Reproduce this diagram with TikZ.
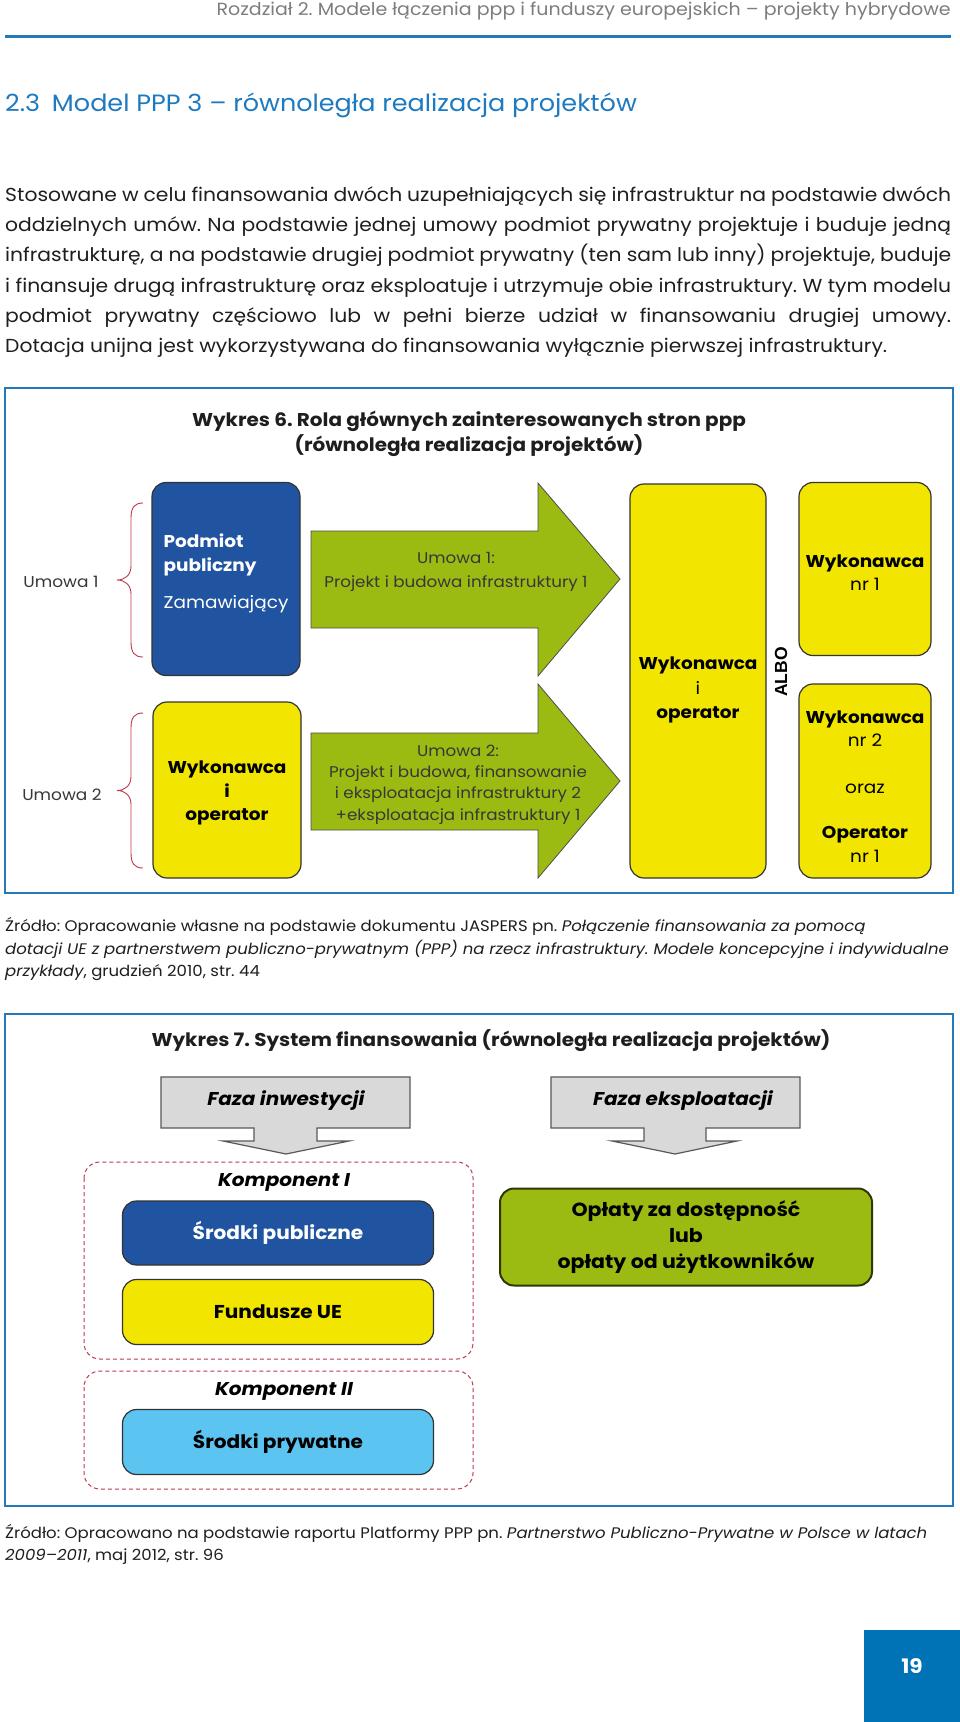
\documentclass[tikz,border=0pt]{standalone}
\usepackage{fontspec}
\setmainfont{Poppins}[FakeStretch=1.08]
\newfontfamily\albofont{Liberation Sans}
\usetikzlibrary{calc}
\frenchspacing

\definecolor{frameblue}{RGB}{36,122,184}
\definecolor{headblue}{RGB}{30,122,192}
\definecolor{pagebox}{RGB}{0,114,182}
\definecolor{pubblue}{RGB}{32,84,160}
\definecolor{arrowgreen}{RGB}{155,187,18}
\definecolor{boxyellow}{RGB}{242,230,0}
\definecolor{skyblue}{RGB}{91,196,240}
\definecolor{bracered}{RGB}{192,57,77}
\definecolor{arrowgray}{RGB}{217,217,217}
\definecolor{headgray}{RGB}{125,125,125}
\definecolor{textgray}{RGB}{55,55,55}
\definecolor{bodyblack}{RGB}{30,30,30}

\newcommand\fs[2]{\fontsize{#1}{#2}\selectfont}

% curly bracket, x of the ends, top and bottom y
\newcommand\klammer[3]{%
    \draw[klammerlinie]
        (#1,#2) .. controls ({#1-9},#2) and ({#1-12},{#2+5}) .. ({#1-12},{#2+15})
        -- ({#1-12},{(#2+#3)/2-14})
        .. controls ({#1-12},{(#2+#3)/2-5}) and ({#1-18},{(#2+#3)/2}) .. ({#1-26},{(#2+#3)/2})
        .. controls ({#1-18},{(#2+#3)/2}) and ({#1-12},{(#2+#3)/2+5}) .. ({#1-12},{(#2+#3)/2+14})
        -- ({#1-12},{#3-15})
        .. controls ({#1-12},{#3-5}) and ({#1-9},#3) .. (#1,#3);
}

\tikzset{
    frame/.style={draw=frameblue, line width=2.5},
    rbox/.style={draw=black!80, line width=1.2, rounded corners=14, inner sep=0, align=center},
    pfeil/.style={draw=black!70, line width=0.8, fill=arrowgreen},
    grauerpfeil/.style={draw=black!65, line width=1.2, fill=arrowgray},
    klammerlinie/.style={draw=bracered, line width=0.9},
    komp/.style={draw=bracered, dash pattern=on 4pt off 3pt, line width=1, rounded corners=16},
    titel/.style={font=\bfseries\fs{18.5}{25}, text=bodyblack, align=center},
    quelle/.style={anchor=base west, inner sep=0, font=\fs{15.3}{18}, text=bodyblack},
    kasten/.style={font=\bfseries\fs{18.6}{22}}
}

\begin{document}
\begin{tikzpicture}[x=1pt,y=1pt,yscale=-1,xscale=1]
    \useasboundingbox[fill=white] (0,0) rectangle (960,1722);

    % page head
    \node[anchor=east, inner sep=0, text=headgray, font=\fs{17.6}{20}] (kopf) at (951,11)
        {Rozdział 2. Modele łączenia ppp i funduszy europejskich – projekty hybrydowe};
    \draw[draw=frameblue, line width=3] (5,36) -- (951,36);

    \node[anchor=base west, inner sep=0, text=headblue, font=\fs{23.6}{28}] (abschnitt) at (5,111)
        {2.3\enspace Model PPP 3 – równoległa realizacja projektów};

    % justified paragraph, one line each
    \foreach \txt [count=\i] in {
        {Stosowane w celu finansowania dwóch uzupełniających się infrastruktur na podstawie dwóch},
        {oddzielnych umów. Na podstawie jednej umowy podmiot prywatny projektuje i buduje jedną},
        {infrastrukturę, a na podstawie drugiej podmiot prywatny (ten sam lub inny) projektuje, buduje},
        {i finansuje drugą infrastrukturę oraz eksploatuje i utrzymuje obie infrastruktury. W tym modelu},
        {podmiot prywatny częściowo lub w pełni bierze udział w finansowaniu drugiej umowy.}}{
        \node[anchor=base west, inner sep=0, text=bodyblack, font=\fs{18.8}{20}] (absatz\i)
            at (5,{201.5+(\i-1)*30.2}) {\makebox[946pt][s]{\txt\unskip}};
    }
    \node[anchor=base west, inner sep=0, text=bodyblack, font=\fs{18.8}{20}] (absatz6) at (5,352.5)
        {Dotacja unijna jest wykorzystywana do finansowania wyłącznie pierwszej infrastruktury.};

    % ---------------- Wykres 6 ----------------
    \draw[frame] (5,388) rectangle (953,893);
    \node[titel] (titel6) at (469,434)
        {Wykres 6. Rola głównych zainteresowanych stron ppp\\(równoległa realizacja projektów)};

    \klammer{143}{503}{657}
    \klammer{143}{713}{868}
    \node[text=textgray, font=\fs{15.7}{20}] (umowa1) at (61,582) {Umowa 1};
    \node[text=textgray, font=\fs{15.7}{20}] (umowa2) at (62,795) {Umowa 2};

    \node[rbox, fill=pubblue, text=white, minimum width=148, minimum height=193, align=left,
          font=\fs{17.1}{24}] (pub) at (226,579)
        {\textbf{Podmiot}\\\textbf{publiczny}\\[13pt]Zamawiający\\[-14.8pt]\strut};
    \node[rbox, fill=boxyellow, text=black, minimum width=148, minimum height=176,
          font=\bfseries\fs{17.1}{23.5}] (wykopL) at (227,790)
        {\strut\\[-21.3pt]Wykonawca\\i\\operator};

    % green arrows
    \draw[pfeil] (311,531) -- (538,531) -- (538,483) -- (620,579) -- (538,676) -- (538,628)
        -- (311,628) -- cycle;
    \draw[pfeil] (311,733) -- (538,733) -- (538,684) -- (620,781) -- (538,878) -- (538,830)
        -- (311,830) -- cycle;
    \node[text=textgray, font=\fs{15.5}{24}, align=center] (umowa1txt) at (456,572.3)
        {Umowa 1:\\Projekt i budowa infrastruktury 1};
    \node[text=textgray, font=\fs{15.5}{21.3}, align=center] (umowa2txt) at (458,784.5)
        {Umowa 2:\\Projekt i budowa, finansowanie\\i eksploatacja infrastruktury 2\\+eksploatacja infrastruktury 1};

    \node[rbox, fill=boxyellow, text=black, minimum width=136, minimum height=394,
          font=\fs{17.1}{24.5}] (wykop) at (698,681)
        {\strut\\[-11pt]\textbf{Wykonawca}\\i\\\textbf{operator}};
    \node[rotate=90, inner sep=0, font=\albofont\bfseries\fs{17.5}{20}] (albo) at (781,672) {ALBO};
    \node[rbox, fill=boxyellow, text=black, minimum width=132, minimum height=173,
          font=\fs{17.1}{23.5}] (wyk1) at (865,569)
        {\strut\\[-20pt]\textbf{Wykonawca}\\nr 1};
    \node[rbox, fill=boxyellow, text=black, minimum width=132, minimum height=194,
          font=\fs{17.1}{23.5}] (wyk2) at (865,781)
        {\strut\\[-16.8pt]\textbf{Wykonawca}\\nr 2\\[23pt]oraz\\[22pt]\textbf{Operator}\\nr 1};

    \node[quelle] (quelle6a) at (5,931.5)
        {Źródło: Opracowanie własne na podstawie dokumentu JASPERS pn. \textit{Połączenie finansowania za pomocą}};
    \node[quelle] (quelle6b) at (5,954)
        {\textit{dotacji UE z partnerstwem publiczno-prywatnym (PPP) na rzecz infrastruktury. Modele koncepcyjne i indywidualne}};
    \node[quelle] (quelle6c) at (5,976.5)
        {\textit{przykłady}, grudzień 2010, str. 44};

    % ---------------- Wykres 7 ----------------
    \draw[frame] (5,1014) rectangle (953,1506);
    \node[titel] (titel7) at (491,1041)
        {Wykres 7. System finansowania (równoległa realizacja projektów)};

    \draw[grauerpfeil] (161,1077) -- (410,1077) -- (410,1128) -- (317,1128) -- (317,1141)
        -- (349,1141) -- (286,1154) -- (223,1141) -- (254,1141) -- (254,1128) -- (161,1128) -- cycle;
    \draw[grauerpfeil] (551,1077) -- (800,1077) -- (800,1128) -- (706,1128) -- (706,1141)
        -- (737,1141) -- (675,1154) -- (612,1141) -- (644,1141) -- (644,1128) -- (551,1128) -- cycle;
    \node[font=\bfseries\itshape\fs{18.5}{22}] (inwest) at (286,1101) {Faza inwestycji};
    \node[font=\bfseries\itshape\fs{18.5}{22}] (eksplo) at (683,1101) {Faza eksploatacji};

    \draw[komp] (84,1162) rectangle (473,1359);
    \draw[komp] (84,1371) rectangle (473,1489);
    \node[font=\bfseries\itshape\fs{18.5}{22}] (komp1) at (284,1182) {Komponent I};
    \node[font=\bfseries\itshape\fs{18.5}{22}] (komp2) at (284,1391) {Komponent II};

    \node[rbox, kasten, fill=pubblue, text=white, minimum width=311, minimum height=64]
        (publ) at (278,1233) {Środki publiczne};
    \node[rbox, kasten, fill=boxyellow, text=black, minimum width=311, minimum height=65]
        (fundusze) at (278,1312) {Fundusze UE};
    \node[rbox, kasten, fill=skyblue, text=black, minimum width=311, minimum height=65]
        (prywatne) at (278,1442) {Środki prywatne};
    \node[rbox, fill=arrowgreen, text=black, draw=black!70!arrowgreen, line width=2,
          minimum width=372, minimum height=97, font=\bfseries\fs{19}{26}] (oplaty) at (686,1237)
        {Opłaty za dostępność\\lub\\opłaty od użytkowników};

    \node[quelle] (quelle7a) at (5,1538)
        {Źródło: Opracowano na podstawie raportu Platformy PPP pn. \textit{Partnerstwo Publiczno-Prywatne w Polsce w latach}};
    \node[quelle] (quelle7b) at (5,1560.5)
        {\textit{2009–2011}, maj 2012, str. 96};

    % page number
    \fill[pagebox] (864,1630) rectangle (960,1722);
    \node[text=white, font=\bfseries\fs{20}{24}] (seite) at (912,1666) {19};
\end{tikzpicture}
\end{document}
